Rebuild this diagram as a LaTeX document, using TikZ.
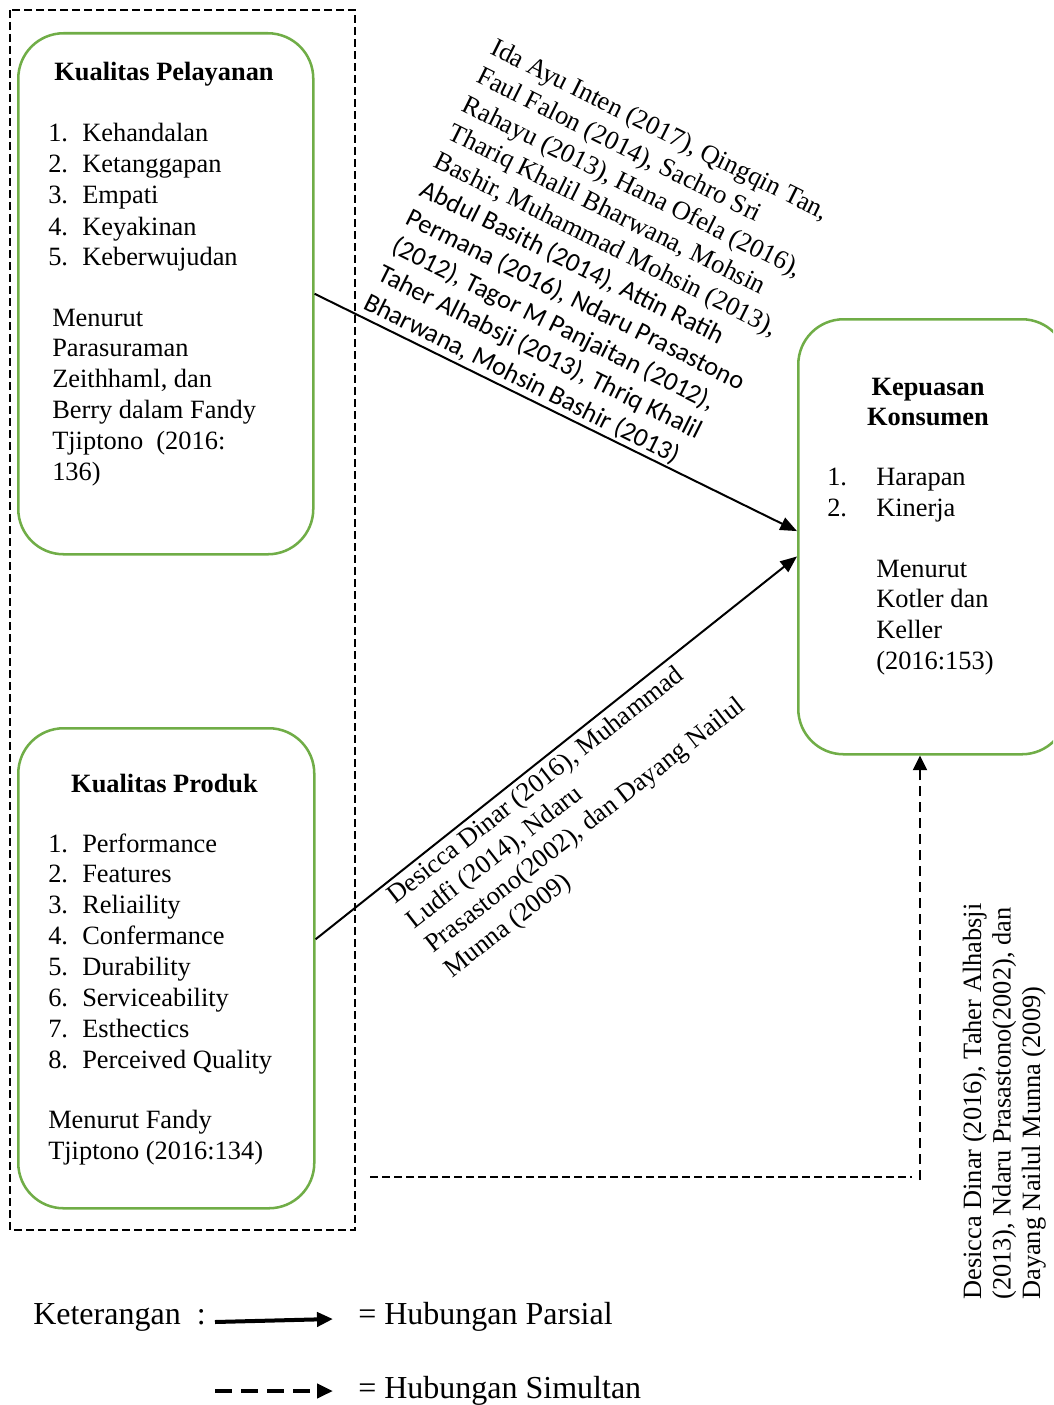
\documentclass[tikz,border=0pt]{standalone}
\usepackage{fontspec}
\setmainfont{Liberation Serif}
\newfontfamily\calib{Carlito}
\usetikzlibrary{arrows.meta,calc}
\definecolor{boxgreen}{HTML}{70AD47}
\begin{document}
\begin{tikzpicture}[x=0.75pt,y=-0.75pt,
  gbox/.style={draw=boxgreen, line width=1.9pt, rounded corners=34pt, inner sep=0pt, anchor=north west},
  grpbox/.style={draw, line width=0.9pt, dash pattern=on 6pt off 3pt},
  txt/.style={anchor=base west, inner sep=0pt, font=\fontsize{19.8}{23.5}\selectfont},
  ctxt/.style={anchor=base west, inner sep=0pt, font=\fontsize{19.8}{23.5}\selectfont\calib},
  ttl/.style={anchor=base, inner sep=0pt, font=\fontsize{19.8}{23.5}\selectfont\bfseries},
  leg/.style={anchor=base west, inner sep=0pt, font=\fontsize{24}{28}\selectfont},
  parr/.style={line width=1.5pt, -{Triangle[length=12.5pt,width=10pt]}},
  sline/.style={line width=1.1pt, dash pattern=on 6pt off 3pt},
  sarr/.style={line width=1.5pt, dash pattern=on 7.5pt off 4.5pt, -{Triangle[length=11pt,width=10.5pt]}},
  legp/.style={line width=3pt, -{Triangle[length=12pt,width=10.5pt]}},
  legs/.style={line width=3pt, dash pattern=on 12.75pt off 6.75pt, -{Triangle[length=12pt,width=10.5pt]}}
]
\useasboundingbox (0,0) rectangle (1053,1405);
\clip (0,0) rectangle (1053,1405);

% group frame
\draw[grpbox] (10,10) rectangle (355,1230);

% boxes
\node[gbox, minimum width=221.25pt, minimum height=390.75pt] (kp) at (17,32) {};
\node[gbox, minimum width=222pt, minimum height=360pt] (pr) at (17,727) {};
\node[gbox, minimum width=201.75pt, minimum height=326.25pt] (ks) at (797,318) {};

% box 1 text
\node[ttl] (kpT) at (164,81) {Kualitas Pelayanan};
\foreach \t [count=\i] in {Kehandalan, Ketanggapan, Empati, Keyakinan, Keberwujudan} {
  \node[txt] (kpn\i) at (48,{142+31*(\i-1)}) {\i.};
  \node[txt] (kpi\i) at (82,{142+31*(\i-1)}) {\t};
}
\foreach \t [count=\i] in {Menurut, Parasuraman, {Zeithhaml, dan}, Berry dalam Fandy, {Tjiptono\ \ (2016:}, 136)} {
  \node[txt] (kpm\i) at (52,{326+30.8*(\i-1)}) {\t};
}

% box 2 text
\node[ttl] (prT) at (164.5,792) {Kualitas Produk};
\foreach \t [count=\i] in {Performance, Features, Reliaility, Confermance, Durability, Serviceability, Esthectics, Perceived Quality} {
  \node[txt] (prn\i) at (48,{852+30.9*(\i-1)}) {\i.};
  \node[txt] (pri\i) at (82,{852+30.9*(\i-1)}) {\t};
}
\node[txt] (prm1) at (48,1128) {Menurut Fandy};
\node[txt] (prm2) at (48,1159) {Tjiptono (2016:134)};

% box 3 text
\node[ttl] (ksT1) at (928,395) {Kepuasan};
\node[ttl] (ksT2) at (928,425) {Konsumen};
\node[txt] (ksn1) at (827,485) {1.};
\node[txt] (ksi1) at (876,485) {Harapan};
\node[txt] (ksn2) at (827,516) {2.};
\node[txt] (ksi2) at (876,516) {Kinerja};
\foreach \t [count=\i] in {Menurut, Kotler dan, Keller, (2016:153)} {
  \node[txt] (ksm\i) at (876,{577+30.7*(\i-1)}) {\t};
}

% connectors
\draw[parr] (kp.east) -- ($(ks.north west)!0.487!(ks.south west)$);
\draw[parr] ($(pr.north east)!0.44!(pr.south east)$) -- ($(ks.north west)!0.545!(ks.south west)$);
\coordinate (dA) at (370,1177);
\coordinate (dB) at (912,1177);
\coordinate (dC) at (920,1180);
\draw[sline] (dA) -- (dB);
\draw[sarr] (dC) -- (dC |- ks.south);

% top diagonal references
\begin{scope}[shift={(362,308)}, rotate=-26.5, transform shape]
\node[txt]  (r1)  at (0,{-9*31.6}) {Ida Ayu Inten (2017), Qingqin Tan,};
\node[txt]  (r2)  at (0,{-8*31.6}) {Faul Falon (2014), Sachro Sri};
\node[txt]  (r3)  at (0,{-7*31.6}) {Rahayu (2013), Hana Ofela (2016),};
\node[txt]  (r4)  at (0,{-6*31.6}) {Thariq Khalil Bharwana, Mohsin};
\node[txt]  (r5)  at (0,{-5*31.6}) {Bashir, Muhammad Mohsin (2013),};
\node[ctxt] (r6)  at (0,{-4*31.6}) {Abdul Basith (2014), Attin Ratih};
\node[ctxt] (r7)  at (0,{-3*31.6}) {Permana (2016), Ndaru Prasastono};
\node[ctxt] (r8)  at (0,{-2*31.6}) {(2012), Tagor M Panjaitan (2012),};
\node[ctxt] (r9)  at (0,{-1*31.6}) {Taher Alhabsji (2013), Thriq Khalil};
\node[ctxt] (r10) at (0,0) {Bharwana, Mohsin Bashir (2013)};
\end{scope}

% bottom diagonal references
\begin{scope}[shift={(395,905)}, rotate=38, transform shape]
\node[txt] (b1) at (0,0)  {Desicca Dinar (2016), Muhammad};
\node[txt] (b2) at (0,31) {Ludfi (2014), Ndaru};
\node[txt] (b3) at (0,62) {Prasastono(2002), dan Dayang Nailul};
\node[txt] (b4) at (0,93) {Munna (2009)};
\end{scope}

% vertical references
\begin{scope}[shift={(981,1300)}, rotate=90, transform shape]
\node[txt] (v1) at (0,0)    {Desicca Dinar (2016), Taher Alhabsji};
\node[txt] (v2) at (0,29.5) {(2013), Ndaru Prasastono(2002), dan};
\node[txt] (v3) at (0,59)   {Dayang Nailul Munna (2009)};
\end{scope}

% legend
\node[leg] (ket) at (33,1324) {Keterangan\ \ :};
\coordinate (lp1) at (215,1322);
\coordinate (lp2) at (333,1319);
\draw[legp] (lp1) -- (lp2);
\node[leg] (hp) at (358,1324) {= Hubungan Parsial};
\coordinate (ls1) at (215,1391);
\coordinate (ls2) at (333,1391);
\draw[legs] (ls1) -- (ls2);
\node[leg] (hs) at (358,1398) {= Hubungan Simultan};
\end{tikzpicture}
\end{document}
